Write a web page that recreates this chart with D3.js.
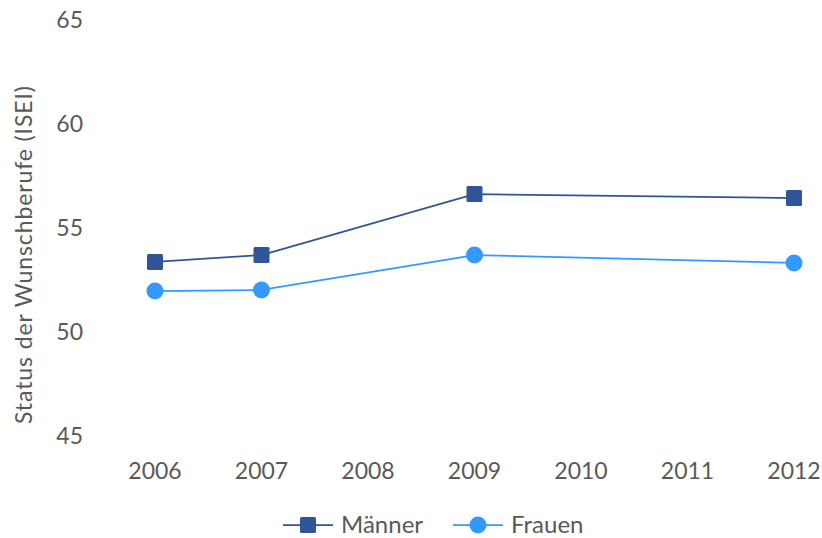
<!DOCTYPE html>
<html lang="de">
<head>
    <meta charset="UTF-8">
    <script src="https://d3js.org/d3.v7.min.js"></script>
    <title>Status der Wunschberufe</title>
    <style>
        body { margin: 0; background: white; }
        text { font-family: Lato, "Open Sans", sans-serif; fill: #595959; }
    </style>
</head>
<body>
    <div id="chart"></div>
    <script>
        // data
        const years = [2006, 2007, 2008, 2009, 2010, 2011, 2012];
        const maennerYears = [2006, 2007, 2009, 2012];
        const maennerValues = [53.37, 53.7, 56.63, 56.44];
        const frauenYears = [2006, 2007, 2009, 2012];
        const frauenValues = [51.97, 52.02, 53.7, 53.32];
        const yTicks = [45, 50, 55, 60, 65];

        const width = 822, height = 538;

        const svg = d3.select("#chart").append("svg")
            .attr("width", width)
            .attr("height", height);

        const x = d3.scaleLinear().domain([2006, 2012]).range([155, 794]);
        const y = d3.scaleLinear().domain([45, 65]).range([436, 20]);

        // y tick labels
        svg.selectAll(".ytick")
            .data(yTicks)
            .enter().append("text")
            .attr("x", 83)
            .attr("y", d => y(d))
            .attr("dy", "0.35em")
            .attr("text-anchor", "end")
            .style("font-size", "23px")
            .text(d => d);

        // x tick labels
        svg.selectAll(".xtick")
            .data(years)
            .enter().append("text")
            .attr("x", d => x(d))
            .attr("y", 471)
            .attr("dy", "0.35em")
            .attr("text-anchor", "middle")
            .style("font-size", "23px")
            .text(d => d);

        // axis title
        svg.append("text")
            .attr("transform", "translate(32,255) rotate(-90)")
            .attr("text-anchor", "middle")
            .attr("textLength", 338)
            .style("font-size", "23px")
            .text("Status der Wunschberufe (ISEI)");

        const series = [
            { name: "Männer", years: maennerYears, values: maennerValues, color: "#2F5597", shape: "square" },
            { name: "Frauen", years: frauenYears, values: frauenValues, color: "#3399FF", shape: "circle" }
        ];

        const line = d3.line().x(d => x(d[0])).y(d => y(d[1]));

        function drawMarker(g, cx, cy, s) {
            if (s.shape === "square") {
                g.append("rect")
                    .attr("x", cx - 8).attr("y", cy - 8)
                    .attr("width", 16).attr("height", 16)
                    .attr("rx", 1.5)
                    .attr("fill", s.color);
            } else {
                g.append("circle")
                    .attr("cx", cx).attr("cy", cy).attr("r", 8.5)
                    .attr("fill", s.color);
            }
        }

        series.forEach(s => {
            const pts = s.years.map((yr, i) => [yr, s.values[i]]);
            svg.append("path")
                .attr("d", line(pts))
                .attr("fill", "none")
                .attr("stroke", s.color)
                .attr("stroke-width", 1.75);
            const g = svg.append("g");
            pts.forEach(p => drawMarker(g, x(p[0]), y(p[1]), s));
        });

        // legend
        const legendX = [283, 453];
        const legendY = 525;
        series.forEach((s, i) => {
            const g = svg.append("g");
            g.append("line")
                .attr("x1", legendX[i]).attr("x2", legendX[i] + 50)
                .attr("y1", legendY).attr("y2", legendY)
                .attr("stroke", s.color)
                .attr("stroke-width", 1.75);
            drawMarker(g, legendX[i] + 25, legendY, s);
            g.append("text")
                .attr("x", legendX[i] + 58)
                .attr("y", legendY)
                .attr("dy", "0.35em")
                .style("font-size", "24px")
                .text(s.name);
        });
    </script>
</body>
</html>
